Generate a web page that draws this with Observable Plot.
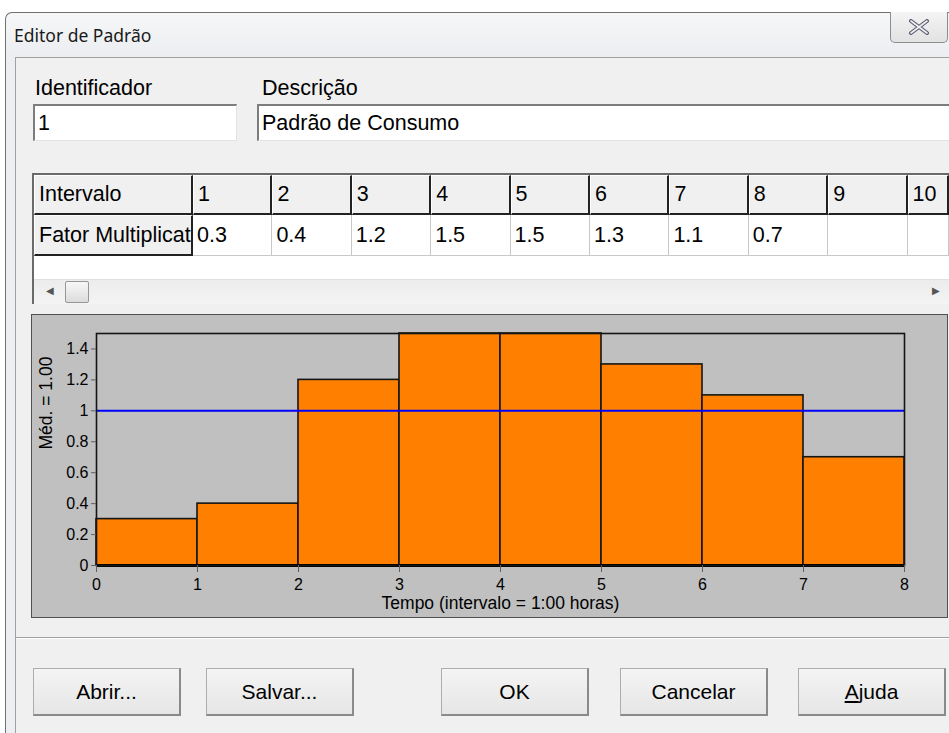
<!DOCTYPE html>
<html>
<head>
<meta charset="utf-8">
<script src="https://cdn.jsdelivr.net/npm/d3@7"></script>
<script src="https://cdn.jsdelivr.net/npm/@observablehq/plot@0.6"></script>
<style>
  html, body { margin: 0; padding: 0; }
  body { width: 949px; height: 733px; position: relative; overflow: hidden; background: #ffffff;
         font-family: "Liberation Sans", Arial, sans-serif; color: #000; }
  .abs { position: absolute; box-sizing: border-box; }
  #frame { left: 5px; top: 12px; width: 980px; height: 760px; border: 1px solid #707070; border-right: none;
           border-radius: 7px 0 0 0; background: linear-gradient(#f6f7f8, #eceef1 40px, #eceef1); }
  #title { left: 14px; top: 23px; font-family: "Noto Sans", "Open Sans", sans-serif; font-size: 17.5px; line-height: 24px; color: #1a1a1a; }
  #close { left: 890px; top: 12px; width: 58px; height: 31px; border: 1px solid #8c8c8c; border-top: none;
           border-radius: 0 0 5px 5px; background: linear-gradient(#f4f4f4, #e2e2e2);
           display: flex; align-items: center; justify-content: center; }
  #client { left: 15px; top: 57px; width: 960px; height: 700px; background: #f0f0f0;
            border-left: 1px solid #a0a0a0; border-top: 1px solid #a0a0a0; }
  .lbl { font-size: 21.5px; line-height: 24px; white-space: nowrap; }
  .edit { background: #fff; border-top: 2px solid #7d7d7d; border-left: 2px solid #7d7d7d;
          border-bottom: 1px solid #e3e3e3; border-right: 1px solid #e3e3e3;
          font-size: 21.5px; display: flex; align-items: center; padding-left: 3px; white-space: nowrap; overflow: hidden; }
  #grid { left: 32px; top: 173px; width: 917px; height: 131px; background: #fff;
          border-top: 2px solid #6a6a6a; border-left: 2px solid #6a6a6a; overflow: hidden; }
  .cell { position: absolute; box-sizing: border-box; font-size: 21.5px; display: flex; align-items: center;
          padding-left: 4px; white-space: nowrap; overflow: hidden; }
  .fixed { background: #f0f0f0; border-right: 2px solid #222; border-bottom: 2px solid #222;
           border-left: 1px solid #fff; border-top: 1px solid #fff; }
  .data { background: #fff; border-right: 1px solid #c8c8c8; border-bottom: 1px solid #c8c8c8; }
  #scroll { position: absolute; left: 0; top: 104px; width: 917px; height: 25px;
            background: linear-gradient(#ececec, #f4f4f4); border-top: 1px solid #e0e0e0; }
  #thumb { position: absolute; left: 31px; top: 1px; width: 24px; height: 22px; border: 1px solid #979797;
           border-radius: 2px; background: linear-gradient(#f7f7f7, #dcdcdc); box-sizing: border-box; }
  .arrow { position: absolute; top: 5px; font-size: 10px; color: #555; }
  #panel { left: 31px; top: 314px; width: 917px; height: 304px; border: 1px solid #505050; background: #c0c0c0; }
  #sep1 { left: 16px; top: 637px; width: 940px; height: 1px; background: #a0a0a0; }
  #sep2 { left: 16px; top: 638px; width: 940px; height: 1px; background: #ffffff; }
  .btn { height: 48px; top: 668px; border: 1px solid #adadad; border-right: 2px solid #8a8a8a; border-bottom: 2px solid #8a8a8a;
         background: linear-gradient(#f4f4f4, #e6e6e6); font-size: 21px;
         display: flex; align-items: center; justify-content: center; }
</style>
</head>
<body>
<div id="frame" class="abs"></div>
<div id="title" class="abs">Editor de Padrão</div>
<div id="close" class="abs"><svg width="22" height="16" viewBox="0 0 22 16"><path d="M3 2 L19 14 M19 2 L3 14" stroke="#5c5c72" stroke-width="4" stroke-linecap="round"/><path d="M3 2 L19 14 M19 2 L3 14" stroke="#f2f2f2" stroke-width="1.6" stroke-linecap="round"/></svg></div>
<div id="client" class="abs"></div>
<div class="abs lbl" style="left:35px; top:76px;">Identificador</div>
<div class="abs lbl" style="left:262px; top:76px;">Descrição</div>
<div id="idBox" class="abs edit" style="left:33px; top:104px; width:204px; height:37px;"></div>
<div id="descBox" class="abs edit" style="left:257px; top:104px; width:692px; height:37px; border-right:none;"></div>
<div id="grid" class="abs"></div>
<div id="panel" class="abs"></div>
<div id="sep1" class="abs"></div>
<div id="sep2" class="abs"></div>
<div id="buttons"></div>
<script>
// ---- data ----
const patternId = "1";
const patternDescription = "Padrão de Consumo";
const intervals = [1, 2, 3, 4, 5, 6, 7, 8];
const factors = [0.3, 0.4, 1.2, 1.5, 1.5, 1.3, 1.1, 0.7];
const gridColumns = [1, 2, 3, 4, 5, 6, 7, 8, 9, 10];
const rowHeaders = ["Intervalo", "Fator Multiplicat"];
const xTicks = [0, 1, 2, 3, 4, 5, 6, 7, 8];
const yTicks = [0, 0.2, 0.4, 0.6, 0.8, 1, 1.2, 1.4];
const xLabel = "Tempo (intervalo = 1:00 horas)";
const buttonLabels = ["Abrir...", "Salvar...", "OK", "Cancelar", "Ajuda"];

// ---- edit boxes ----
document.getElementById("idBox").textContent = patternId;
document.getElementById("descBox").textContent = patternDescription;

// ---- grid ----
const grid = document.getElementById("grid");
const gridInner = 915;
const headW = 159, colW = 79.4, rowH = [40, 41];
function cell(cls, x, y, w, h, text) {
  const d = document.createElement("div");
  d.className = "cell " + cls;
  d.style.left = x + "px"; d.style.top = y + "px";
  d.style.width = w + "px"; d.style.height = h + "px";
  d.textContent = text;
  grid.appendChild(d);
}
cell("fixed", 0, 0, headW, rowH[0], rowHeaders[0]);
cell("fixed", 0, rowH[0], headW, rowH[1], rowHeaders[1]);
gridColumns.forEach((c, i) => {
  const x = headW + i * colW;
  const w = Math.min(colW, gridInner - x);
  cell("fixed", x, 0, w, rowH[0], String(c));
  const v = factors[intervals.indexOf(c)];
  cell("data", x, rowH[0], w, rowH[1], v === undefined ? "" : v.toFixed(1));
});
const scroll = document.createElement("div");
scroll.id = "scroll";
scroll.innerHTML = '<span class="arrow" style="left:12px">&#9664;</span><div id="thumb"></div><span class="arrow" style="left:898px">&#9654;</span>';
grid.appendChild(scroll);

// ---- chart ----
const bars = intervals.map((n, i) => ({start: n - 1, end: n, value: factors[i]}));
const meanValue = d3.mean(factors);
const yLabel = `Méd. = ${meanValue.toFixed(2)}`;

const chart = Plot.plot({
  width: 915,
  height: 302,
  marginLeft: 64,
  marginRight: 43,
  marginTop: 18,
  marginBottom: 52,
  style: {background: "#c0c0c0", fontFamily: "'Liberation Sans', Arial, sans-serif", fontSize: "16px", color: "#000"},
  x: {domain: [0, 8]},
  y: {domain: [0, 1.5]},
  marks: [
    Plot.rectY(bars, {x1: "start", x2: "end", y: "value", fill: "#ff8000", stroke: "#151515", strokeWidth: 1.6}),
    Plot.ruleY([meanValue], {stroke: "#0000ff", strokeWidth: 2}),
    Plot.ruleY([0], {stroke: "#000", strokeWidth: 3}),
    Plot.frame({stroke: "#151515", strokeWidth: 1.6}),
    Plot.axisX({ticks: xTicks, tickSize: 7, tickPadding: 6, tickFormat: d => String(d), stroke: "#606060", label: null}),
    Plot.axisY({ticks: yTicks, tickSize: 5, tickPadding: 3, tickFormat: d => String(d), stroke: "#606060", label: null}),
    Plot.text([yLabel], {frameAnchor: "left", rotate: -90, dx: -50, fontSize: 17.5}),
    Plot.text([xLabel], {frameAnchor: "bottom", dy: 43, fontSize: 17.5})
  ]
});
document.getElementById("panel").appendChild(chart);

// ---- buttons ----
const btnX = [33, 206, 441, 620, 798];
const btns = document.getElementById("buttons");
buttonLabels.forEach((t, i) => {
  const b = document.createElement("div");
  b.className = "abs btn";
  b.style.left = btnX[i] + "px";
  b.style.width = "148px";
  if (t === "Ajuda") b.innerHTML = "<u>A</u>juda"; else b.textContent = t;
  btns.appendChild(b);
});
</script>
</body>
</html>
